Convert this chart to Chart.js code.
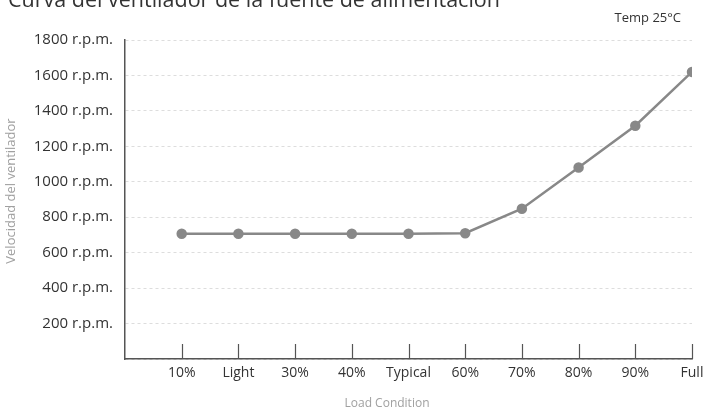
<!DOCTYPE html>
<html>
<head>
<meta charset="utf-8">
<script src="https://cdn.jsdelivr.net/npm/chart.js@4.4.1/dist/chart.umd.min.js"></script>
<style>
  html, body { margin: 0; padding: 0; background: #ffffff; overflow: hidden; }
  #wrap { position: relative; width: 703px; height: 411px; }
</style>
</head>
<body>
<div id="wrap"><canvas id="c" width="703" height="411"></canvas></div>
<script>
const titleText = "Curva del ventilador de la fuente de alimentación";
const subtitleText = "Temp 25°C";
const xAxisTitle = "Load Condition";
const yAxisTitle = "Velocidad del ventilador";
const categories = ["10%", "Light", "30%", "40%", "Typical", "60%", "70%", "80%", "90%", "Full"];
const fanSpeed = [707, 707, 707, 707, 707, 710, 848, 1081, 1316, 1620];
const yTicks = [200, 400, 600, 800, 1000, 1200, 1400, 1600, 1800];
const yUnit = " r.p.m.";

const FONT = "'Open Sans'";

const points = categories.map((c, i) => ({ x: i + 1, y: fanSpeed[i] }));

const textPlugin = {
  id: 'textPlugin',
  beforeDatasetsDraw(chart) {
    const { ctx, chartArea, scales } = chart;
    const xs = scales.x;
    ctx.save();
    ctx.strokeStyle = '#555555';
    ctx.lineWidth = 1.2;
    categories.forEach((c, i) => {
      const px = Math.round(xs.getPixelForValue(i + 1)) + 0.5;
      ctx.beginPath();
      ctx.moveTo(px, chartArea.bottom);
      ctx.lineTo(px, chartArea.bottom - 15);
      ctx.stroke();
    });
    ctx.restore();
  },
  afterDraw(chart) {
    const { ctx } = chart;
    ctx.save();
    ctx.fillStyle = '#333333';
    ctx.font = `21.5px ${FONT}`;
    ctx.textAlign = 'left';
    ctx.textBaseline = 'alphabetic';
    ctx.fillText(titleText, 8, 7);
    ctx.font = `13px ${FONT}`;
    ctx.textAlign = 'right';
    ctx.textBaseline = 'middle';
    ctx.fillText(subtitleText, 681, 18);
    ctx.fillStyle = '#a0a0a0';
    ctx.font = `12px ${FONT}`;
    ctx.textAlign = 'center';
    ctx.fillText(xAxisTitle, 387, 404);
    ctx.font = `13px ${FONT}`;
    ctx.translate(11, 191);
    ctx.rotate(-Math.PI / 2);
    ctx.fillText(yAxisTitle, 0, 0);
    ctx.restore();
  }
};

new Chart(document.getElementById('c'), {
  type: 'line',
  data: {
    datasets: [{
      data: points,
      borderColor: '#888888',
      backgroundColor: '#888888',
      pointBackgroundColor: '#888888',
      pointBorderColor: '#888888',
      borderWidth: 2.5,
      pointRadius: 4,
      pointHoverRadius: 4,
      tension: 0
    }]
  },
  options: {
    responsive: false,
    animation: false,
    devicePixelRatio: 1,
    layout: { padding: { top: 40, right: 11, left: 0, bottom: 0 } },
    plugins: {
      legend: { display: false },
      tooltip: { enabled: false },
      title: { display: false }
    },
    scales: {
      x: {
        type: 'linear',
        min: 0,
        max: categories.length,
        afterBuildTicks(scale) {
          scale.ticks = categories.map((c, i) => ({ value: i + 1 }));
        },
        afterFit(scale) { scale.height = 52; scale.paddingRight = 0; scale.paddingLeft = 0; },
        ticks: {
          autoSkip: false,
          maxRotation: 0,
          padding: 6,
          color: '#333333',
          font: { family: FONT, size: 14 },
          callback: (v) => categories[v - 1] || ''
        },
        grid: { display: true, drawOnChartArea: false, drawTicks: false },
        border: { display: true, color: '#555555', width: 1.5 }
      },
      y: {
        min: 0,
        max: 1800,
        afterBuildTicks(scale) {
          scale.ticks = [{ value: 0 }].concat(yTicks.map(v => ({ value: v })));
        },
        afterFit(scale) { scale.width = 125; scale.paddingTop = 0; scale.paddingBottom = 0; },
        ticks: {
          padding: 12,
          color: '#333333',
          font: { family: FONT, size: 15 },
          callback: (v) => v === 0 ? '' : v + yUnit
        },
        grid: { color: '#dddddd', lineWidth: 1, drawTicks: false },
        border: { display: true, color: '#555555', width: 1.5, dash: [3, 3] }
      }
    }
  },
  plugins: [textPlugin]
});
</script>
</body>
</html>
